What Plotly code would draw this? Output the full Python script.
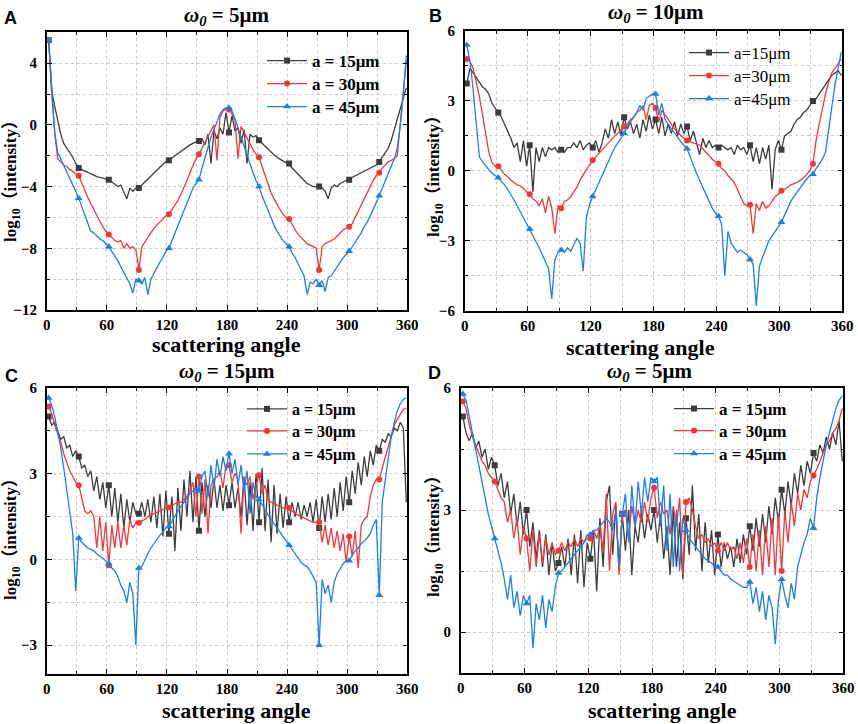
import plotly.graph_objects as go

# ---------------- data ----------------
angles = list(range(2, 360, 3))  # scattering angle samples (deg)

# Panel A  (w0 = 5um)
A15 = [5.5, 2.2, 1.2, 0.2, -0.6, -1.2, -1.5, -1.8, -2.1, -2.5,
       -2.8, -2.9, -3.0, -3.1, -3.2, -3.3, -3.35, -3.4, -3.45, -3.5,
       -3.55, -3.7, -3.85, -4.0, -3.9, -4.3, -4.8, -4.1, -4.3, -4.1,
       -4.1, -3.9, -3.7, -3.5, -3.3, -3.1, -2.9, -2.7, -2.55, -2.4,
       -2.3, -2.15, -2.0, -1.85, -1.7, -1.55, -1.4, -1.3, -1.2, -1.1,
       -1.05, -0.9, -1.3, -0.6, -2.5, -0.4, -0.9, -0.2, -0.6, 0.8,
       -0.5, 0.6, -0.4, -0.2, -1.2, -0.3, -2.5, -0.6, -0.8, -0.7,
       -1.0, -1.2, -1.4, -1.6, -1.8, -1.95, -2.1, -2.25, -2.35, -2.45,
       -2.5, -2.8, -3.0, -3.2, -3.4, -3.6, -3.8, -3.9, -4.0, -4.0,
       -4.0, -4.1, -4.3, -4.8, -4.1, -3.9, -4.0, -3.8, -3.7, -3.6,
       -3.55, -3.45, -3.35, -3.2, -3.1, -3.0, -2.9, -2.8, -2.7, -2.6,
       -2.4, -2.1, -1.8, -1.5, -1.0, -0.3, 0.4, 1.1, 1.8, 2.4]
A30 = [5.5, 2.0, -0.5, -2.2, -2.4, -2.6, -2.7, -2.9, -3.0, -3.2,
       -3.3, -3.8, -4.3, -4.7, -5.1, -5.5, -5.9, -6.2, -6.6, -6.9,
       -7.1, -7.3, -7.5, -7.6, -7.5, -8.0, -7.7, -8.0, -7.9, -8.1,
       -9.4, -7.9, -7.6, -7.3, -7.0, -6.7, -6.5, -6.3, -6.1, -5.9,
       -5.8, -5.5, -5.2, -4.9, -4.5, -4.1, -3.6, -3.1, -2.6, -2.2,
       -1.9, -1.5, -1.1, -0.7, -0.3, 0.0, -2.3, 0.5, 0.9, 1.0,
       1.0, 0.7, 0.3, -2.2, -0.1, -0.5, -0.9, -1.3, -1.6, -1.9,
       -2.1, -2.7, -3.3, -3.9, -4.4, -4.8, -5.2, -5.5, -5.8, -6.0,
       -6.1, -6.5, -6.8, -7.1, -7.3, -7.5, -7.7, -7.8, -7.9, -8.0,
       -9.4, -7.9, -7.7, -7.6, -7.5, -7.4, -7.2, -7.0, -6.8, -6.7,
       -6.6, -6.4, -6.0, -5.6, -5.1, -4.7, -4.3, -3.9, -3.6, -3.3,
       -3.1, -2.8, -2.6, -2.4, -2.3, -2.2, -2.0, 0.2, 2.5, 4.2]
A45 = [5.5, 2.5, -0.5, -1.8, -2.2, -2.6, -3.0, -3.4, -3.9, -4.3,
       -4.75, -5.3, -5.8, -6.4, -6.9, -7.0, -7.2, -7.4, -7.5, -7.7,
       -7.9, -8.2, -8.5, -8.8, -9.2, -9.6, -9.9, -10.3, -10.9, -10.0,
       -10.1, -10.3, -9.9, -11.0, -10.0, -9.6, -9.2, -8.9, -8.6, -8.2,
       -8.0, -7.5, -7.0, -6.5, -6.1, -5.6, -5.0, -4.5, -4.1, -3.8,
       -3.55, -2.8, -2.1, -1.5, -0.8, -0.3, 0.2, 0.7, 1.0, 1.1,
       1.1, 0.9, 0.4, -0.2, -0.8, -1.4, -2.0, -2.6, -3.1, -3.6,
       -4.0, -4.6, -5.1, -5.6, -6.1, -6.5, -6.9, -7.2, -7.5, -7.7,
       -7.9, -8.3, -8.6, -9.0, -9.4, -9.8, -11.0, -10.2, -10.3, -10.0,
       -10.4, -10.1, -10.8, -9.9, -9.8, -9.5, -9.2, -8.9, -8.6, -8.4,
       -8.2, -7.9, -7.6, -7.3, -7.0, -6.6, -6.3, -5.9, -5.5, -5.0,
       -4.6, -4.1, -3.6, -3.1, -2.6, -2.2, -1.5, 0.0, 2.0, 4.5]

# Panel B  (w0 = 10um)
B15 = [3.75, 4.4, 4.2, 4.0, 3.8, 3.6, 3.5, 3.3, 2.9, 2.7,
       2.5, 2.3, 2.0, 1.7, 1.4, 1.0, 1.2, 0.4, 1.3, 0.2,
       1.1, -0.9, 1.0, 0.4, 1.0, 0.6, 1.0, 0.9, 1.0, 0.8,
       0.9, 0.8, 1.0, 1.0, 1.2, 1.0, 1.3, 0.9, 1.1, 1.2,
       1.0, 1.3, 0.8, 1.2, 1.8, 1.4, 2.2, 1.6, 2.1, 1.5,
       2.3, 1.8, 2.1, 1.6, 2.0, 1.4, 2.2, 1.7, 2.4, 1.8,
       2.2, 1.6, 2.3, 1.5, 2.0, 1.6, 2.1, 1.5, 2.0, 1.6,
       1.9, 1.3, 1.7, 1.2, 0.7, 1.4, 1.0, 1.3, 1.0, 1.1,
       1.0, 1.1, 1.0, 0.9, 1.0, 0.7, 1.1, 0.9, 1.0, 0.7,
       1.1, 0.4, 1.0, 0.3, 1.0, 0.5, 1.1, -0.8, 0.9, 1.3,
       0.9, 1.5, 1.6, 1.7, 2.0, 2.2, 2.3, 2.5, 2.6, 2.8,
       3.0, 3.1, 3.3, 3.5, 3.7, 3.9, 4.1, 4.2, 4.3, 4.1]
B30 = [4.8, 4.7, 4.4, 3.8, 3.2, 2.4, 1.5, 0.8, 0.35, 0.2,
       0.2, 0.0, -0.15, -0.25, -0.4, -0.5, -0.6, -0.65, -0.75, -0.9,
       -1.0, -1.2, -1.3, -1.5, -1.2, -1.8, -1.1, -1.6, -2.7, -1.5,
       -1.6, -1.3, -1.25, -1.1, -0.9, -0.7, -0.4, -0.15, 0.05, 0.25,
       0.45, 0.6, 0.75, 0.9, 1.05, 1.2, 1.35, 1.5, 1.6, 1.75,
       1.9, 2.0, 2.2, 2.3, 2.5, 2.6, 2.8, 2.2, 2.8, 2.9,
       2.7, 2.1, 2.6, 2.4, 2.2, 2.0, 1.8, 1.7, 1.5, 1.4,
       1.3, 1.25, 1.2, 1.15, 1.1, 0.95, 0.8, 0.65, 0.5, 0.4,
       0.3, 0.1, 0.0, -0.2, -0.35, -0.5, -0.8, -1.1, -1.4, -1.5,
       -1.45, -2.7, -1.4, -1.7, -1.3, -1.6, -1.5, -1.3, -1.1, -1.0,
       -0.85, -0.8, -0.7, -0.6, -0.55, -0.5, -0.4, -0.3, -0.15, 0.0,
       0.3, 1.3, 2.0, 2.7, 3.3, 3.8, 4.2, 4.4, 4.6, 4.8]
B45 = [5.4, 4.7, 3.5, 2.0, 0.6, 0.4, 0.2, 0.05, -0.1, -0.2,
       -0.3, -0.45, -0.6, -0.8, -1.0, -1.25, -1.5, -1.75, -2.0, -2.3,
       -2.5, -2.8, -3.0, -3.3, -3.6, -3.9, -4.2, -5.5, -3.8, -3.5,
       -3.4, -3.5, -3.3, -3.45, -3.2, -2.9, -3.1, -4.3, -2.0, -1.45,
       -1.1, -0.8, -0.5, -0.2, 0.1, 0.4, 0.7, 1.0, 1.2, 1.4,
       1.6, 1.9, 2.1, 2.3, 2.5, 2.8, 2.6, 3.1, 3.2, 3.3,
       3.3, 2.4, 2.9, 2.2, 2.0, 1.8, 1.6, 1.4, 1.25, 1.1,
       0.95, 0.6, 0.2, -0.1, -0.4, -0.7, -1.0, -1.3, -1.6, -1.8,
       -1.95, -2.3, -4.5, -2.6, -3.1, -3.3, -3.5, -3.4, -3.5, -3.6,
       -3.8, -4.0, -5.8, -4.1, -3.7, -3.3, -3.0, -2.8, -2.6, -2.4,
       -2.2, -1.9, -1.6, -1.3, -1.1, -0.9, -0.7, -0.5, -0.35, -0.2,
       -0.15, 0.1, 0.3, 0.5, 0.8, 1.8, 2.9, 3.7, 4.4, 5.1]

# Panel C  (w0 = 15um)
C15 = [5.0, 4.7, 4.8, 4.5, 4.2, 4.3, 3.9, 4.0, 3.6, 3.8,
       3.6, 3.2, 3.3, 2.9, 3.1, 2.4, 2.9, 2.1, 2.7, 1.8,
       2.6, 1.5, 2.5, 1.3, 2.3, 1.1, 2.1, 1.3, 2.0, 1.6,
       1.6, 2.0, 1.5, 2.1, 1.3, 2.2, 1.1, 2.3, 0.8, 2.4,
       0.9, 2.2, 0.3, 2.5, 1.0, 2.8, 1.5, 3.1, 1.3, 2.9,
       1.0, 2.7, 1.5, 2.6, 1.8, 2.8, 1.8, 2.6, 1.7, 2.6,
       1.9, 2.7, 1.8, 2.5, 1.5, 2.9, 1.2, 2.7, 1.0, 3.0,
       1.3, 3.2, 1.0, 2.8, 0.6, 2.6, 0.9, 2.3, 1.1, 2.2,
       1.3, 2.0, 1.5, 2.0, 1.4, 1.9, 1.5, 2.0, 1.3, 2.1,
       1.1, 2.2, 1.3, 2.3, 1.4, 2.5, 1.5, 2.7, 1.7, 2.9,
       2.0, 3.1, 2.3, 3.4, 2.6, 3.6, 2.9, 3.8, 3.3, 4.0,
       3.8, 4.2, 4.1, 4.4, 4.3, 4.6, 4.5, 4.8, 4.6, 2.0]
C30 = [5.35, 5.1, 4.7, 4.4, 4.1, 3.7, 3.4, 3.1, 2.9, 2.7,
       2.6, 2.1, 1.7, 1.6, 1.7, 1.5, 0.4, 1.5, 0.3, 1.3,
       -0.2, 1.2, 0.4, 1.3, 0.4, 1.2, 0.5, 1.4, 1.1, 1.3,
       1.28, 1.35, 1.4, 1.5, 1.55, 1.6, 1.65, 1.7, 1.75, 1.8,
       1.82, 1.9, 1.95, 2.0, 2.0, 2.1, 2.2, 2.4, 2.7, 1.5,
       2.9, 1.6, 2.8, 0.9, 2.6, 2.8, 2.9, 3.1, 2.5, 3.3,
       3.3, 2.7, 3.0, 2.8, 0.9, 2.8, 2.6, 2.9, 2.1, 2.6,
       2.95, 2.3, 2.6, 2.1, 2.0, 1.95, 1.9, 1.85, 1.8, 1.8,
       1.8, 1.7, 1.6, 1.55, 1.5, 1.45, 1.4, 1.35, 1.3, 1.3,
       1.3, 0.6, 1.2, 0.5, 1.1, 0.4, 1.0, 0.3, 0.9, -0.1,
       0.8, 0.1, 1.0, -0.3, 1.2, 1.4, 1.5, 2.2, 2.6, 2.8,
       2.8, 3.2, 3.6, 4.0, 4.4, 4.7, 4.9, 5.1, 5.25, 5.3]
C45 = [5.65, 5.4, 5.0, 4.5, 3.9, 3.2, 2.4, 1.6, 0.9, -1.1,
       0.75, 0.6, 0.5, 0.4, 0.35, 0.3, 0.2, 0.1, 0.05, -0.05,
       -0.15, -0.3, -0.4, -0.6, -0.9, -1.1, -1.5, -0.8, -1.2, -3.0,
       -0.3, -0.25, 0.0, 0.2, 0.4, 0.55, 0.7, 0.85, 0.95, 1.1,
       1.15, 1.35, 1.5, 1.7, 1.85, 2.0, 2.15, 2.3, 2.4, 2.5,
       2.4, 2.9, 3.1, 2.2, 3.3, 2.5, 3.5, 2.9, 3.6, 3.1,
       3.7, 3.0, 3.5, 2.6, 3.3, 2.4, 3.1, 1.6, 2.7, 2.2,
       2.1, 1.9, 1.7, 1.55, 1.4, 1.25, 1.1, 0.95, 0.8, 0.65,
       0.5, 0.35, 0.2, 0.05, -0.1, -0.2, -0.25, -0.4, -0.6, -0.8,
       -3.0, -0.7, -1.2, -0.9, -1.5, -0.8, -0.5, -0.3, -0.15, -0.05,
       -0.05, 0.15, 0.3, 0.4, 0.55, 0.65, 0.75, 0.9, 1.2, 1.4,
       -1.25, 2.0, 2.8, 3.6, 4.3, 4.8, 5.2, 5.45, 5.6, 5.65]

# Panel D  (w0 = 5um)
D15 = [5.3, 4.9, 4.7, 4.9, 4.5, 4.7, 4.3, 4.5, 4.0, 4.3,
       4.1, 3.6, 3.9, 3.3, 3.7, 2.9, 3.4, 2.6, 3.2, 2.4,
       3.0, 2.1, 2.7, 1.8, 2.5, 1.6, 2.4, 1.4, 2.2, 1.5,
       1.7, 2.1, 1.6, 2.3, 1.4, 2.4, 1.2, 2.5, 1.1, 2.2,
       1.8, 2.5, 1.0, 2.8, 1.6, 3.2, 3.6, 1.9, 3.1, 1.5,
       2.9, 2.0, 3.0, 1.4, 2.6, 2.2, 3.0, 2.3, 2.9, 2.5,
       3.0, 2.2, 2.9, 1.8, 2.6, 1.4, 3.0, 1.6, 2.7, 1.3,
       2.8, 1.9, 3.6, 2.0, 2.9, 1.5, 2.7, 1.7, 2.5, 1.4,
       2.4, 1.6, 2.2, 1.8, 2.1, 1.6, 2.3, 1.7, 2.4, 1.9,
       2.6, 2.0, 2.8, 2.1, 2.9, 2.2, 3.1, 2.4, 3.3, 2.7,
       3.5, 2.9, 3.7, 3.1, 3.9, 3.4, 4.1, 3.6, 4.2, 3.9,
       4.4, 4.2, 4.6, 4.4, 4.8, 4.5, 4.9, 4.6, 5.2, 4.2]
D30 = [5.67, 5.5, 5.1, 4.8, 4.6, 4.4, 4.2, 4.1, 3.9, 3.8,
       3.7, 3.5, 3.3, 3.2, 2.7, 3.0, 2.3, 2.8, 1.9, 2.6,
       2.3, 1.5, 2.5, 1.6, 2.4, 1.7, 2.3, 1.9, 2.2, 1.9,
       2.0, 2.2, 2.0, 2.2, 2.1, 2.3, 2.1, 2.3, 2.2, 2.4,
       2.3, 2.5, 2.3, 2.6, 2.0, 3.4, 1.5, 2.9, 3.2, 1.4,
       2.9, 3.0, 2.3, 3.1, 2.6, 3.0, 2.7, 3.2, 2.7, 3.3,
       3.55, 2.8, 3.2, 2.9, 3.0, 2.4, 3.1, 2.6, 3.3, 1.4,
       3.2, 3.3, 3.0, 2.6, 2.3, 2.4, 2.2, 2.3, 2.1, 2.2,
       2.0, 2.2, 2.0, 2.2, 2.0, 2.1, 1.8, 2.2, 1.7, 2.3,
       1.6, 2.4, 1.5, 2.5, 1.4, 2.6, 1.6, 2.8, 1.4, 2.9,
       1.5, 3.0, 2.2, 3.2, 2.6, 3.4, 3.0, 3.5, 3.3, 3.7,
       3.85, 4.0, 4.2, 4.4, 4.6, 4.7, 4.9, 5.0, 5.2, 5.5]
D45 = [5.85, 5.7, 5.3, 4.9, 4.5, 4.1, 3.7, 3.3, 2.9, 2.6,
       2.3, 2.0, 1.7, 1.3, 0.8, 1.4, 0.6, 1.0, 0.4, 0.9,
       0.7, 0.9, -0.4, 0.7, 0.3, 0.9, 0.1, 0.8, 0.5, 1.1,
       1.45, 1.5, 1.6, 1.7, 1.8, 1.9, 2.0, 2.1, 2.2, 2.3,
       2.4, 2.5, 2.5, 2.6, 2.7, 2.8, 2.7, 2.5, 3.0, 1.6,
       2.9, 3.4, 2.2, 3.6, 2.6, 3.7, 2.9, 3.8, 3.2, 3.8,
       3.7, 3.8, 2.6, 3.6, 2.0, 3.4, 1.6, 3.0, 1.5, 2.8,
       2.5, 2.3, 2.2, 2.1, 2.0, 1.9, 1.8, 1.75, 1.7, 1.6,
       1.6, 1.5, 1.4, 1.4, 1.3, 1.25, 1.2, 1.15, 1.1, 1.1,
       1.23, 0.7, 1.1, 0.5, 1.0, 0.3, 0.9, 0.6, -0.3, 0.8,
       1.3, 0.9, 0.6, 1.2, 0.8, 1.6, 1.9, 2.2, 2.4, 2.8,
       2.55, 3.3, 3.8, 4.2, 4.6, 4.9, 5.2, 5.5, 5.7, 5.8]

panel_titles = ["<i>ω<sub>0</sub></i> = 5μm", "<i>ω<sub>0</sub></i> = 10μm",
                "<i>ω<sub>0</sub></i> = 15μm", "<i>ω<sub>0</sub></i> = 5μm"]
panel_letters = ["A", "B", "C", "D"]
names_spaced = ["a = 15μm", "a = 30μm", "a = 45μm"]
names_tight = ["a=15μm", "a=30μm", "a=45μm"]
y_ranges = [(-12, 6), (-6, 6), (-4, 6), (-1, 6)]
y_major = [4, 3, 3, 3]
y_minor = [2, 1.5, 1.5, 1.5]

# ---------------- style ----------------
SERIF = "Liberation Serif, Times New Roman, serif"
SERIF_CJK = "Liberation Serif, Noto Sans CJK SC, serif"
SANS = "Liberation Sans, Arial, sans-serif"
COLORS = ["#3c3c3c", "#f2363a", "#1b7fe6"]
SYMBOLS = ["square", "circle", "triangle-up"]
SIZES = [6, 6, 7]
GRID = "#c9c9c9"

W, H = 858, 724
# plot areas in pixels: (left, right, top, bottom)
boxes = [(46.7, 407.3, 32.3, 310.0), (464.7, 842.3, 31.0, 310.7),
         (46.7, 407.3, 388.0, 673.7), (460.7, 843.3, 388.0, 672.7)]

panels = [[A15, A30, A45], [B15, B30, B45], [C15, C30, C45], [D15, D30, D45]]

# legend entry: text start x and row centres (px)
legend_text_x = [312, 734, 292, 719]
legend_rows = [(60, 83, 106), (52, 75, 98), (409, 431, 454), (408, 430, 453)]
legend_fonts = [dict(size=17, weight="bold"), dict(size=17, weight="normal"),
                dict(size=16, weight="bold"), dict(size=17, weight="bold")]

fig = go.Figure()
layout = dict(width=W, height=H, margin=dict(l=0, r=0, t=0, b=0, autoexpand=False),
              paper_bgcolor="white", plot_bgcolor="white", showlegend=True)

k = 0
for p in range(4):
    ax = "" if p == 0 else str(p + 1)
    names = names_tight if p == 1 else names_spaced
    for s in range(3):
        k += 1
        lg = "legend" if k == 1 else "legend%d" % k
        ys = panels[p][s]
        mcolors = [COLORS[s] if i % 10 == 0 else "rgba(0,0,0,0)" for i in range(len(angles))]
        fig.add_trace(go.Scatter(
            x=angles, y=ys, mode="lines+markers", name=names[s],
            line=dict(color=COLORS[s], width=1.3),
            marker=dict(symbol=SYMBOLS[s], size=SIZES[s], color=mcolors, line=dict(width=0)),
            xaxis="x" + ax, yaxis="y" + ax, legend=lg,
        ))
        layout[lg] = dict(x=(legend_text_x[p] - 50) / W, y=1 - (legend_rows[p][s] - 17) / H,
                          xanchor="left", yanchor="top",
                          bgcolor="rgba(0,0,0,0)", borderwidth=0, itemwidth=40,
                          font=dict(family=SERIF, color="black", **legend_fonts[p]))

annotations = []
for p in range(4):
    l, r, t, b = boxes[p]
    ax = "" if p == 0 else str(p + 1)
    common = dict(showline=True, linecolor="black", linewidth=1.6, mirror="allticks",
                  ticks="inside", ticklen=5, tickwidth=1.2, tickcolor="black",
                  showgrid=True, gridcolor=GRID, griddash="dot", gridwidth=1,
                  zeroline=False, automargin=False,
                  tickfont=dict(family=SERIF, size=15, color="black", weight="bold"))
    layout["xaxis" + ax] = dict(common, domain=[l / W, r / W], range=[0, 360],
                                tick0=0, dtick=60, anchor="y" + ax, ticklabelstandoff=0,
                                minor=dict(dtick=30, ticks="inside", ticklen=3, tickcolor="black",
                                           showgrid=True, gridcolor=GRID, griddash="dot"))
    lo, hi = y_ranges[p]
    layout["yaxis" + ax] = dict(common, domain=[1 - b / H, 1 - t / H], range=[lo, hi],
                                tick0=0, dtick=y_major[p], anchor="x" + ax, ticklabelstandoff=5,
                                minor=dict(dtick=y_minor[p], ticks="inside", ticklen=3, tickcolor="black",
                                           showgrid=True, gridcolor=GRID, griddash="dot"))
    # panel title
    annotations.append(dict(text=panel_titles[p], xref="paper", yref="paper",
                            x=[227, 656, 227, 649][p] / W,
                            y=1 - [16, 13, 372, 372][p] / H,
                            showarrow=False, xanchor="center", yanchor="middle",
                            font=dict(family=SERIF, size=21, color="black", weight="bold")))
    # panel letter
    annotations.append(dict(text=panel_letters[p], xref="paper", yref="paper",
                            x=[10, 435, 11, 434][p] / W,
                            y=1 - [18, 16, 376, 373][p] / H,
                            showarrow=False, xanchor="center", yanchor="middle",
                            font=dict(family=SANS, size=18, color="black", weight="bold")))
    # x title
    annotations.append(dict(text="scattering angle", xref="paper", yref="paper",
                            x=[227, 640, 236, 662][p] / W,
                            y=1 - [344, 347, 710, 710][p] / H,
                            showarrow=False, xanchor="center", yanchor="middle",
                            font=dict(family=SERIF, size=22, color="black", weight="bold")))
    # y title
    annotations.append(dict(text="log<sub>10</sub>（intensity）", xref="paper", yref="paper",
                            x=[12, 435, 12, 435][p] / W,
                            y=1 - [177, 172, 535, 532][p] / H,
                            showarrow=False, textangle=-90, xanchor="center", yanchor="middle",
                            font=dict(family=SERIF_CJK, size=17, color="black", weight="bold")))

layout["annotations"] = annotations
fig.update_layout(**layout)
fig.write_html("out.html", config={"displayModeBar": False},
               post_script="document.body.style.margin='0px';")
